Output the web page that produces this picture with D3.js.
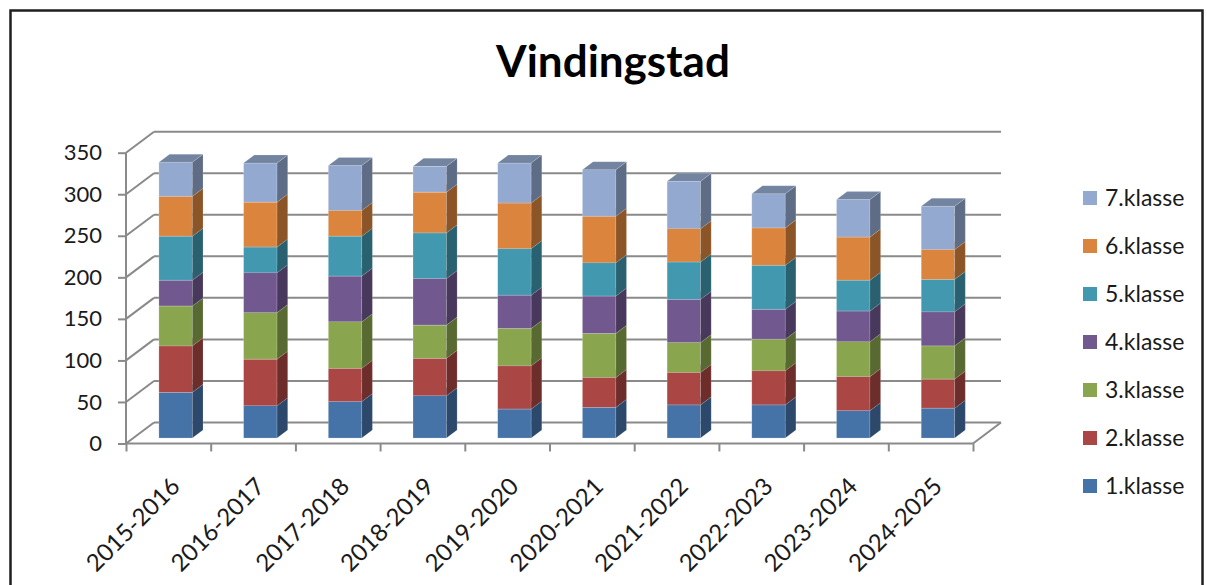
<!DOCTYPE html>
<html>
<head>
<meta charset="utf-8">
<script src="https://cdn.jsdelivr.net/npm/d3@7"></script>
<style>
  body { margin: 0; background: #fff; }
  text { font-family: Lato, "Open Sans", sans-serif; fill: #1a1a1a; }
</style>
</head>
<body>
<svg width="1207" height="585"></svg>
<script>
var years = ["2015-2016", "2016-2017", "2017-2018", "2018-2019", "2019-2020",
             "2020-2021", "2021-2022", "2022-2023", "2023-2024", "2024-2025"];
var series = ["1.klasse", "2.klasse", "3.klasse", "4.klasse", "5.klasse", "6.klasse", "7.klasse"];
var klasse1 = [55, 39, 44, 51, 35, 37, 40, 40, 33, 36];
var klasse2 = [56, 56, 40, 45, 52, 36, 39, 41, 41, 35];
var klasse3 = [48, 56, 56, 40, 45, 53, 36, 38, 42, 40];
var klasse4 = [31, 48, 55, 56, 40, 45, 52, 36, 37, 41];
var klasse5 = [53, 31, 48, 55, 56, 40, 45, 53, 37, 39];
var klasse6 = [48, 54, 31, 49, 55, 56, 40, 45, 52, 36];
var klasse7 = [41, 47, 54, 31, 48, 56, 57, 41, 45, 52];
var yTicks = [0, 50, 100, 150, 200, 250, 300, 350];
var colors = ["#4572A7", "#AA4643", "#89A54E", "#71588F", "#4198AF", "#DB843D", "#93A9CF"];

var allValues = [klasse1, klasse2, klasse3, klasse4, klasse5, klasse6, klasse7];
var rows = years.map(function(yr, i) {
  var r = { year: yr };
  series.forEach(function(s, k) { r[s] = allValues[k][i]; });
  return r;
});
var stacked = d3.stack().keys(series)(rows);

var svg = d3.select("svg");

// wall depth (px) and bar depth as fraction of wall depth
var DX = 28, DY = 21;
var z0 = 0.26, z1 = 0.64;

var x = d3.scaleBand().domain(years).range([126, 973]).padding(0);
var xEdge = d3.scaleLinear().domain([0, years.length]).range([126, 973]);
var y = d3.scaleLinear().domain([0, 350]).range([443.5, 152.7]);
var barW = x.bandwidth() * 0.395;

var gridColor = "#8a8a8a";

// chart frame
svg.append("rect")
  .attr("x", 10.5).attr("y", 10.5)
  .attr("width", 1192).attr("height", 620)
  .attr("fill", "none")
  .attr("stroke", "#1f1f1f")
  .attr("stroke-width", 2.5);

// title
svg.append("text")
  .attr("x", 613).attr("y", 77)
  .attr("text-anchor", "middle")
  .style("font-size", "44px")
  .style("font-weight", "bold")
  .style("fill", "#000")
  .text("Vindingstad");

// back wall gridlines + side wall diagonals
var grid = svg.append("g");
yTicks.forEach(function(t) {
  grid.append("line")
    .attr("x1", 126 + DX).attr("x2", 973 + DX)
    .attr("y1", y(t) - DY).attr("y2", y(t) - DY)
    .attr("stroke", gridColor).attr("stroke-width", 2);
  grid.append("line")
    .attr("x1", 126).attr("y1", y(t))
    .attr("x2", 126 + DX).attr("y2", y(t) - DY)
    .attr("stroke", gridColor).attr("stroke-width", 2);
});
// floor right edge
grid.append("line")
  .attr("x1", 973).attr("y1", y(0))
  .attr("x2", 973 + DX).attr("y2", y(0) - DY)
  .attr("stroke", gridColor).attr("stroke-width", 2);

// front axes
var yAxis = svg.append("g")
  .attr("transform", "translate(126,0)")
  .call(d3.axisLeft(y).tickValues(yTicks).tickSize(8).tickPadding(16));
var xAxisTicks = svg.append("g")
  .attr("transform", "translate(0," + y(0) + ")")
  .call(d3.axisBottom(xEdge).ticks(years.length).tickSize(8).tickFormat(""));
[yAxis, xAxisTicks].forEach(function(g) {
  g.selectAll("path.domain").attr("stroke", gridColor).attr("stroke-width", 2);
  g.selectAll(".tick line").attr("stroke", gridColor).attr("stroke-width", 2);
});
xAxisTicks.select("path.domain").attr("d", "M126,0H973");
yAxis.select("path.domain").attr("d", "M0," + y(0) + "V" + y(350));
yAxis.selectAll("text")
  .style("font-size", "22px")
  .style("font-family", "Lato, sans-serif")
  .attr("fill", "#1a1a1a");

// category labels
svg.append("g")
  .selectAll("text")
  .data(years)
  .enter().append("text")
    .attr("transform", function(d) {
      return "translate(" + (x(d) + x.bandwidth() / 2 + 13) + ",488) rotate(-45)";
    })
    .attr("text-anchor", "end")
    .style("font-size", "24px")
    .text(function(d) { return d; });

// 3D stacked bars
var bars = svg.append("g");
years.forEach(function(yr, i) {
  var cx = x(yr) + x.bandwidth() / 2;
  var xf0 = cx - barW / 2 + z0 * DX;
  var xf1 = cx + barW / 2 + z0 * DX;
  var ddx = (z1 - z0) * DX, ddy = (z1 - z0) * DY;
  stacked.forEach(function(layer, k) {
    var d = layer[i];
    var yb = y(d[0]) - z0 * DY, yt = y(d[1]) - z0 * DY;
    var base = d3.color(colors[k]);
    var edge = "rgba(255,255,255,0.35)";
    // front
    bars.append("rect")
      .attr("x", xf0).attr("y", yt)
      .attr("width", xf1 - xf0).attr("height", yb - yt)
      .attr("fill", base.formatHex())
      .attr("stroke", edge).attr("stroke-width", 0.6);
    // side
    bars.append("path")
      .attr("d", "M" + xf1 + "," + yb + "L" + (xf1 + ddx) + "," + (yb - ddy) +
                 "L" + (xf1 + ddx) + "," + (yt - ddy) + "L" + xf1 + "," + yt + "Z")
      .attr("fill", base.darker(1.25).formatHex())
      .attr("stroke", edge).attr("stroke-width", 0.4);
    // top
    bars.append("path")
      .attr("d", "M" + xf0 + "," + yt + "L" + xf1 + "," + yt +
                 "L" + (xf1 + ddx) + "," + (yt - ddy) + "L" + (xf0 + ddx) + "," + (yt - ddy) + "Z")
      .attr("fill", base.darker(0.7).formatHex())
      .attr("stroke", edge).attr("stroke-width", 0.4);
  });
});

// legend (top item = 7.klasse)
var legend = svg.append("g")
  .selectAll("g")
  .data(series.slice().reverse())
  .enter().append("g")
    .attr("transform", function(d, i) { return "translate(1083," + (198 + i * 48) + ")"; });
legend.append("rect")
  .attr("x", 0).attr("y", -7)
  .attr("width", 14).attr("height", 14)
  .attr("fill", function(d) { return colors[series.indexOf(d)]; });
legend.append("text")
  .attr("x", 22).attr("y", 0)
  .attr("dy", "0.36em")
  .style("font-size", "23px")
  .text(function(d) { return d; });
</script>
</body>
</html>
